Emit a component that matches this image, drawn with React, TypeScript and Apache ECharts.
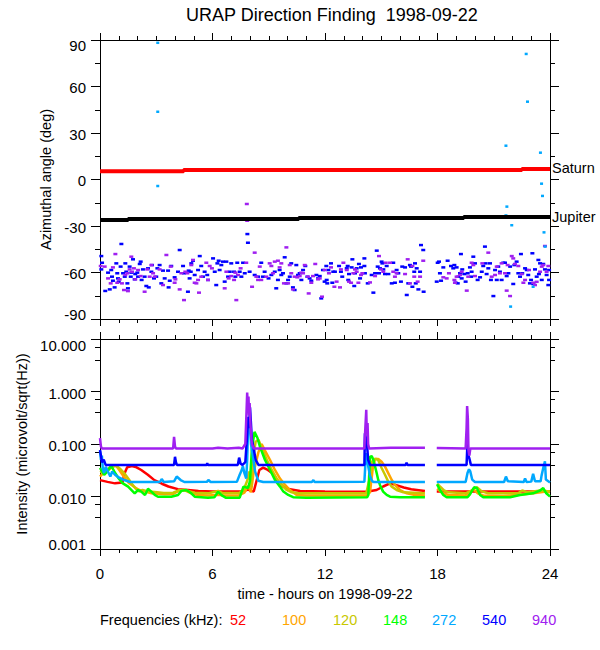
import React, { useEffect, useRef } from "react";
import * as echarts from "echarts";

// ---------- DATA ----------
const titleText = "URAP Direction Finding  1998-09-22";
const hourTicks = [0, 6, 12, 18, 24];
const freqLabels = ["52", "100", "120", "148", "272", "540", "940"];

// Top panel: planet directions (hours, deg)
const saturn: [number, number][] = [[0, 5.3], [4.46, 6.1], [22.5, 6.8], [24, 6.8]];
const jupiter: [number, number][] = [[0, -26.1], [1.5, -25.5], [10.6, -24.8], [19.4, -24.2], [24, -24.2]];

// Top panel: direction-finding points (hours, deg)
const df540: [number, number][] = [
  [0.07,-49.4],[0.11,-53.7],[0.07,-58.0],[0.28,-71.9],[0.43,-60.1],[0.52,-70.9],[0.60,-58.4],[0.64,-62.7],[0.69,-65.3],[0.78,-69.6],
  [0.87,-54.1],[0.92,-60.5],[0.96,-63.8],[1.0,-65.9],[1.10,-56.2],[1.14,-41.6],[1.23,-60.5],[1.32,-62.7],[1.35,-54.1],[1.40,-59.5],
  [1.46,-67.0],[1.49,-70.2],[1.58,-56.2],[1.64,-62.7],[1.67,-60.1],[1.76,-51.5],[1.85,-64.4],[1.88,-61.0],[1.99,-60.1],[2.03,-62.7],
  [2.12,-54.5],[2.17,-53.0],[2.22,-64.8],[2.29,-58.0],[2.38,-62.7],[2.47,-68.7],[2.56,-57.3],[2.60,-69.6],[2.74,-59.5],[2.77,-55.2],
  [2.88,-63.8],[3.0,-62.7],[3.06,-57.3],[3.18,-55.2],[3.27,-67.0],[3.36,-58.8],[3.45,-63.8],[3.63,-58.8],[3.66,-69.6],[3.72,-65.3],
  [3.80,-55.8],[3.98,-63.1],[4.16,-59.5],[4.25,-45.5],[4.43,-55.8],[4.48,-60.5],[4.69,-72.4],[4.73,-58.8],[4.78,-63.8],[4.84,-59.5],
  [4.87,-54.1],[4.96,-52.4],[5.05,-61.6],[5.23,-58.4],[5.32,-49.4],[5.40,-55.8],[5.49,-62.7],[5.58,-59.5],[5.72,-61.6],[5.76,-64.8],
  [6.03,-50.9],[6.12,-59.5],[6.20,-68.1],[6.26,-54.1],[6.33,-52.4],[6.38,-58.4],[6.47,-55.2],[6.56,-53.0],[6.65,-65.9],[6.74,-53.0],
  [6.83,-62.7],[6.92,-59.5],[7.0,-54.1],[7.15,-59.5],[7.22,-62.7],[7.32,-53.7],[7.45,-59.5],[7.54,-62.7],[7.63,-53.7],[7.72,-60.5],
  [7.86,-35.2],[7.89,-40.8],[7.98,-59.5],[8.25,-61.6],[8.43,-62.7],[8.60,-53.7],[8.69,-62.7],[8.78,-59.5],[8.99,-63.8],[9.14,-61.6],
  [9.32,-59.5],[9.40,-70.2],[9.49,-64.8],[9.58,-58.4],[9.67,-61.6],[9.76,-60.5],[9.85,-50.2],[9.94,-67.0],[10.03,-64.8],[10.12,-62.7],
  [10.20,-54.1],[10.29,-69.6],[10.38,-71.3],[10.47,-55.2],[10.56,-61.6],[10.65,-60.5],[10.74,-64.8],[10.83,-58.4],[10.95,-55.8],[11.06,-62.7],
  [11.18,-63.8],[11.27,-65.3],[11.54,-61.6],[11.63,-63.8],[11.72,-62.3],[11.80,-76.7],[11.89,-58.4],[11.98,-65.9],[12.07,-55.8],[12.12,-67.0],
  [12.09,-64.8],[12.18,-58.4],[12.32,-54.1],[12.39,-66.6],[12.44,-59.5],[12.53,-59.5],[12.75,-55.8],[12.85,-59.5],[12.92,-62.7],[13.16,-57.3],
  [13.21,-55.8],[13.24,-64.8],[13.28,-61.0],[13.42,-56.7],[13.46,-51.5],[13.56,-68.7],[13.6,-60.5],[13.69,-57.3],[13.81,-54.5],[13.87,-63.8],
  [13.92,-56.7],[14.1,-50.9],[14.1,-55.8],[14.13,-60.5],[14.28,-67.0],[14.49,-61.6],[14.58,-73.0],[14.67,-60.5],[14.76,-45.9],[14.81,-56.2],
  [14.88,-60.5],[14.93,-57.3],[15.02,-53.0],[15.06,-54.1],[15.11,-58.0],[15.2,-61.0],[15.29,-55.8],[15.38,-61.0],[15.56,-67.0],[15.64,-53.7],
  [15.73,-66.6],[15.82,-58.4],[15.91,-60.5],[16.05,-65.9],[16.12,-56.2],[16.27,-56.7],[16.36,-74.5],[16.44,-67.0],[16.53,-55.2],[16.59,-56.2],
  [16.66,-69.2],[16.76,-59.5],[16.8,-54.1],[16.84,-67.0],[16.89,-57.3],[16.98,-70.9],[17.07,-59.5],[17.12,-42.3],[17.24,-45.5],[17.26,-72.4],
  [17.96,-65.9],[18.01,-53.7],[18.08,-53.0],[18.13,-60.5],[18.19,-65.3],[18.31,-56.7],[18.54,-52.4],[18.72,-55.8],[18.84,-57.3],[18.9,-55.2],
  [18.97,-66.6],[19.02,-56.7],[19.08,-67.0],[19.11,-62.7],[19.2,-60.5],[19.25,-48.1],[19.29,-63.8],[19.32,-58.0],[19.43,-61.0],[19.5,-65.9],
  [19.61,-60.5],[19.73,-56.7],[19.79,-62.7],[19.82,-59.5],[19.91,-49.8],[20.0,-54.1],[20.14,-64.8],[20.27,-63.1],[20.36,-59.5],[20.44,-55.8],
  [20.53,-43.3],[20.57,-54.1],[20.62,-61.0],[20.71,-57.3],[20.8,-54.1],[20.85,-64.8],[20.98,-75.2],[21.07,-58.4],[21.16,-64.8],[21.24,-56.2],
  [21.33,-59.5],[21.42,-64.8],[21.51,-53.7],[21.6,-53.7],[21.69,-62.3],[21.78,-60.5],[21.87,-56.2],[22.04,-67.4],[22.1,-55.2],[22.22,-53.0],
  [22.31,-60.5],[22.4,-62.7],[22.45,-48.1],[22.52,-60.5],[22.67,-57.3],[22.76,-58.4],[22.84,-61.6],[22.93,-67.0],[22.99,-64.8],[23.06,-47.6],
  [23.11,-67.4],[23.2,-58.0],[23.29,-62.7],[23.38,-51.9],[23.41,-61.0],[23.47,-54.1],[23.56,-64.8],[23.64,-54.5],[23.73,-58.0],[23.82,-61.6],
  [23.91,-68.1],[23.95,-58.4],[23.95,-64.8]
];
const df940: [number, number][] = [
  [0.04,-55.8],[0.25,-56.2],[0.43,-63.8],[0.57,-67.0],[0.69,-56.7],[0.82,-48.1],[0.92,-66.6],[1.05,-64.4],[1.17,-67.0],[1.28,-71.3],
  [1.35,-61.6],[1.46,-60.5],[1.49,-72.0],[1.58,-58.0],[1.67,-49.8],[1.71,-59.5],[1.81,-57.3],[1.88,-64.4],[2.03,-58.4],[2.17,-62.3],
  [2.38,-72.4],[2.52,-58.0],[2.65,-62.7],[2.74,-55.2],[2.83,-60.5],[2.92,-62.7],[3.18,-58.0],[3.36,-68.1],[3.54,-48.7],[3.77,-56.2],
  [3.98,-66.6],[4.02,-64.4],[4.25,-70.9],[4.34,-60.5],[4.48,-77.8],[4.55,-59.5],[4.66,-60.5],[4.87,-55.2],[4.96,-51.9],[5.05,-66.6],
  [5.14,-67.0],[5.23,-64.8],[5.28,-73.0],[5.40,-62.7],[5.67,-53.7],[5.76,-64.8],[5.85,-55.8],[5.97,-57.3],[6.65,-70.2],[6.74,-59.5],
  [6.86,-63.8],[7.0,-62.3],[7.15,-64.8],[7.22,-60.1],[7.27,-77.8],[7.36,-61.6],[7.50,-57.3],[7.80,-53.7],[7.83,-15.8],[7.85,-26.6],
  [8.11,-69.2],[8.25,-47.2],[8.34,-62.7],[8.43,-64.8],[8.52,-56.2],[8.60,-64.8],[8.87,-62.7],[9.05,-54.1],[9.14,-55.8],[9.23,-60.5],
  [9.32,-53.0],[9.49,-52.4],[9.58,-56.7],[9.67,-54.1],[9.81,-67.0],[9.94,-43.8],[10.03,-67.0],[10.12,-55.2],[10.20,-60.5],[10.29,-70.9],
  [10.38,-62.7],[10.52,-63.1],[10.65,-62.3],[10.74,-60.1],[10.83,-60.5],[10.92,-55.2],[11.09,-62.7],[11.13,-73.5],[11.27,-66.6],[11.36,-62.3],
  [11.48,-54.5],[11.63,-64.4],[11.72,-63.8],[11.84,-75.6],[11.98,-58.4],[12.21,-60.5],[12.32,-56.7],[12.5,-69.2],[12.62,-65.9],[12.8,-69.6],
  [12.85,-58.0],[12.98,-53.7],[13.16,-58.4],[13.28,-65.9],[13.39,-66.6],[13.51,-60.5],[13.6,-58.0],[13.69,-59.5],[13.78,-66.6],[13.92,-61.6],
  [13.99,-60.5],[14.4,-66.4],[14.67,-62.3],[14.88,-49.4],[14.99,-58.0],[15.11,-59.5],[15.24,-53.7],[15.47,-53.7],[15.64,-59.5],[15.73,-62.7],
  [15.82,-60.5],[16.27,-61.0],[16.41,-51.5],[16.53,-67.0],[16.66,-55.8],[16.76,-62.7],[16.94,-65.9],[17.07,-62.7],[17.24,-52.4],[18.31,-63.1],
  [18.49,-63.8],[18.61,-60.5],[18.9,-64.8],[18.93,-66.6],[19.02,-62.7],[19.2,-61.6],[19.29,-59.5],[19.56,-71.7],[19.64,-62.7],[19.82,-53.7],
  [19.91,-55.2],[20.0,-62.3],[20.39,-54.1],[20.71,-47.2],[20.89,-62.7],[21.07,-61.6],[21.16,-56.2],[21.33,-60.5],[21.42,-54.1],[21.6,-60.5],
  [21.69,-71.7],[21.74,-55.2],[21.87,-75.2],[21.96,-49.4],[22.04,-50.9],[22.13,-54.5],[22.31,-55.8],[22.49,-61.0],[22.58,-66.6],[22.67,-64.8],
  [22.88,-58.4],[23.11,-66.6],[23.2,-68.1],[23.29,-66.0],[23.47,-59.5],[23.56,-56.2],[23.64,-55.2],[23.73,-42.9],[23.82,-59.5],[23.91,-55.8]
];
const df272: [number, number][] = [
  [3.08,88.2],[3.08,43.7],[3.08,-4.2],[21.65,21.8],[21.7,-17.5],[21.65,-23.2],[21.96,-29.5],[22.73,81.0],[22.8,50.2],
  [23.49,17.3],[23.55,-2.7],[23.6,-10.6],[23.68,-34.1],[23.74,-43.3],[21.9,-82.0],[23.1,-69.2]
];

// Bottom panel: intensity per frequency (hours, microvolt/sqrt(Hz)); '-' = data gap
const f52: any[] = [
  [0,0.0205],[0.4,0.019],[0.8,0.0178],[1.2,0.0185],[1.3,0.027],[1.45,0.036],[1.7,0.038],[1.95,0.036],[2.2,0.032],[2.55,0.026],
  [2.9,0.0205],[3.3,0.0175],[3.65,0.0155],[4.15,0.0138],[4.7,0.0133],[5.25,0.0127],[6.0,0.0125],[7.0,0.0125],[7.6,0.0126],[7.9,0.0135],
  [8.05,0.0128],[8.2,0.0125],[8.35,0.02],[8.5,0.032],[8.7,0.0354],[8.95,0.032],[9.25,0.0268],[9.5,0.019],[9.78,0.0153],[10.13,0.0137],
  [10.67,0.0127],[12.0,0.0125],[14.2,0.0123],[14.75,0.0133],[15.1,0.0155],[15.47,0.0178],[15.8,0.0165],[16.2,0.0148],[16.6,0.0138],[17.0,0.0132],
  [17.33,0.0127],[17.65,"-"],[17.96,0.0124],[19,0.0124],[20,0.0125],[21,0.0124],[22,0.0125],[23,0.0124],[24,0.0125]
];
const f100: any[] = [
  [0,0.024],[0.22,0.029],[0.5,0.033],[0.67,0.037],[0.85,0.039],[1.03,0.032],[1.2,0.026],[1.39,0.021],[1.56,0.0178],[1.85,0.015],
  [2.1,0.0133],[2.4,0.0124],[2.75,0.0115],[3.45,0.011],[3.9,0.0112],[4.2,0.0128],[4.5,0.0133],[4.87,0.0115],[5.23,0.0107],[5.8,0.0104],
  [6.3,0.0108],[6.6,0.0104],[7.4,0.0105],[7.7,0.0118],[7.9,0.016],[8.05,0.012],[8.2,0.03],[8.45,0.07],[8.62,0.1],[8.8,0.075],
  [9.07,0.0495],[9.33,0.032],[9.6,0.022],[9.87,0.0166],[10.13,0.0133],[10.49,0.0107],[11,0.0104],[14.2,0.0104],[14.4,0.012],[14.55,0.035],
  [14.67,0.052],[14.84,0.052],[15.02,0.046],[15.2,0.037],[15.38,0.0276],[15.56,0.0206],[15.73,0.0166],[16.0,0.0133],[16.36,0.0115],[16.8,0.0107],
  [17.33,0.0105],[17.65,"-"],[17.98,0.0141],[18.3,0.0115],[18.58,0.0107],[19.5,0.0105],[19.75,0.012],[19.91,0.0137],[20.15,0.0115],[20.44,0.0105],
  [21.5,0.0102],[22.2,0.0107],[23.1,0.0115],[23.8,0.0125],[24,0.012]
];
const f120: any[] = [
  [0,0.029],[0.32,0.032],[0.6,0.037],[0.85,0.039],[1.1,0.033],[1.3,0.0276],[1.56,0.0206],[1.74,0.0166],[1.92,0.014],[2.1,0.0125],
  [2.27,0.0133],[2.56,0.0125],[2.92,0.0122],[3.4,0.0117],[3.9,0.0118],[4.2,0.013],[4.4,0.0133],[4.7,0.0128],[5.05,0.0118],[5.8,0.0115],
  [6.3,0.0128],[6.55,0.0116],[7.4,0.0116],[7.65,0.013],[7.85,0.02],[7.95,0.03],[8.05,0.015],[8.15,0.05],[8.3,0.11],[8.45,0.12],
  [8.65,0.08],[8.9,0.0495],[9.16,0.032],[9.42,0.022],[9.69,0.0166],[9.96,0.0133],[10.22,0.012],[10.6,0.0115],[14.2,0.0115],[14.35,0.02],
  [14.5,0.045],[14.6,0.052],[14.75,0.052],[14.84,0.049],[15.02,0.035],[15.2,0.026],[15.38,0.019],[15.56,0.0154],[15.82,0.0133],[16.18,0.012],
  [17.33,0.0115],[17.65,"-"],[17.98,0.0175],[18.13,0.0155],[18.35,0.013],[18.58,0.012],[19.5,0.0115],[19.8,0.013],[20.1,0.015],[20.36,0.0125],
  [20.7,0.0115],[22.3,0.0115],[22.52,0.013],[22.8,0.012],[23.5,0.013],[24,0.0125]
];
const f148: any[] = [
  [0,0.035],[0.22,0.0257],[0.4,0.03],[0.6,0.039],[0.78,0.029],[1.0,0.022],[1.2,0.018],[1.5,0.0154],[1.85,0.0115],[2.03,0.0133],
  [2.2,0.0124],[2.4,0.0107],[2.56,0.014],[2.74,0.0124],[2.92,0.0107],[3.09,0.0099],[3.8,0.0099],[4.16,0.0107],[4.34,0.0128],[4.6,0.0133],
  [4.87,0.0115],[5.05,0.0099],[5.76,0.0095],[6.1,0.0097],[6.3,0.0123],[6.5,0.0105],[6.7,0.0095],[7.45,0.0095],[7.65,0.0154],[7.9,0.0145],
  [8.0,0.02],[8.1,0.08],[8.24,0.17],[8.4,0.13],[8.53,0.089],[8.8,0.0495],[9.07,0.032],[9.33,0.0206],[9.6,0.0154],[9.78,0.0124],
  [10.04,0.0107],[10.3,0.0097],[11,0.0095],[14.25,0.0097],[14.31,0.0107],[14.4,0.057],[14.49,0.059],[14.58,0.05],[14.67,0.037],[14.76,0.0276],
  [14.84,0.0206],[14.93,0.0166],[15.1,0.0124],[15.29,0.0107],[15.47,0.0099],[16,0.0097],[17.33,0.0097],[17.65,"-"],[17.98,0.017],[18.13,0.0133],
  [18.31,0.0107],[18.49,0.0097],[19.6,0.0097],[19.73,0.011],[19.95,0.015],[20.1,0.0145],[20.27,0.0107],[20.44,0.0097],[21.87,0.0097],[22.4,0.0107],
  [23.1,0.0115],[23.47,0.013],[23.64,0.0145],[23.8,0.0115],[24,0.01]
];
const f272: any[] = [
  [0,0.074],[0.05,0.05],[0.1,0.06],[0.15,0.034],[0.22,0.028],[0.3,0.037],[0.4,0.031],[0.55,0.024],[0.65,0.03],[0.8,0.026],
  [1.0,0.023],[1.3,0.0206],[1.6,0.0189],[3.2,0.0189],[3.29,0.0215],[3.4,0.0189],[3.95,0.0195],[4.09,0.024],[4.3,0.0206],[4.5,0.0189],
  [5.7,0.019],[5.78,0.0206],[5.9,0.0189],[7.3,0.019],[7.45,0.026],[7.56,0.032],[7.62,0.038],[7.7,0.028],[7.8,0.022],[7.85,0.05],
  [7.9,0.2],[7.95,0.32],[8.0,0.25],[8.05,0.1],[8.15,0.06],[8.27,0.03],[8.44,0.02],[8.71,0.0189],[11.3,0.0189],[11.38,0.0205],
  [11.45,0.0189],[14.1,0.019],[14.15,0.04],[14.2,0.067],[14.25,0.05],[14.31,0.037],[14.4,0.025],[14.5,0.02],[14.58,0.0189],[17.33,0.0189],
  [17.65,"-"],[17.96,0.0189],[19.5,0.0189],[19.6,0.028],[19.68,0.033],[19.75,0.03],[19.85,0.021],[20,0.0189],[21.55,0.0189],[21.65,0.024],
  [21.75,0.0195],[22.6,0.0189],[22.67,0.022],[22.75,0.0189],[23.0,0.0192],[23.1,0.027],[23.2,0.0195],[23.5,0.0195],[23.55,0.025],[23.64,0.035],
  [23.73,0.047],[23.78,0.021],[24,0.0185]
];
const f540: any[] = [
  [0,0.077],[0.05,0.06],[0.1,0.045],[0.2,0.05],[0.3,0.04],[3.95,0.04],[4.0,0.057],[4.05,0.045],[4.1,0.04],[5.69,0.04],
  [5.72,0.043],[5.75,0.04],[7.35,0.04],[7.42,0.055],[7.5,0.042],[7.6,0.04],[7.75,0.045],[7.85,0.15],[7.9,0.33],[7.95,0.2],
  [8.0,0.5],[8.05,0.25],[8.1,0.12],[8.2,0.08],[8.3,0.05],[8.45,0.04],[14.1,0.04],[14.13,0.16],[14.2,0.12],[14.25,0.089],
  [14.3,0.05],[14.4,0.04],[16.3,0.04],[16.35,0.044],[16.4,0.04],[17.33,0.04],[17.65,"-"],[17.96,0.04],[19.55,0.04],[19.6,0.11],
  [19.65,0.06],[19.7,0.053],[19.78,0.04],[24,0.04]
];
const f940: any[] = [
  [0,0.13],[0.05,0.09],[0.1,0.082],[3.9,0.082],[3.95,0.137],[4.0,0.09],[4.05,0.082],[6.0,0.082],[6.3,0.085],[6.8,0.082],
  [7.4,0.085],[7.6,0.082],[7.75,0.1],[7.8,0.3],[7.85,0.95],[7.88,0.5],[7.92,0.8],[7.95,0.35],[7.98,0.6],[8.02,0.25],
  [8.06,0.15],[8.1,0.1],[8.2,0.082],[14.1,0.082],[14.15,0.2],[14.2,0.45],[14.23,0.15],[14.27,0.25],[14.3,0.1],[14.35,0.082],
  [15.5,0.085],[17.33,0.085],[17.65,"-"],[17.96,0.084],[19.5,0.082],[19.55,0.2],[19.58,0.53],[19.62,0.3],[19.65,0.077],[19.7,0.06],
  [19.75,0.082],[24,0.082]
];

// ---------- STYLE ----------
const FONT = "'Liberation Sans', Arial, Helvetica, sans-serif";
const freqColors = ["#ff0000", "#ffa500", "#c8c800", "#00ff00", "#00a8ff", "#0000ff", "#a020f0"];
const freqSeries = [f52, f100, f120, f148, f272, f540, f940];

function App() {
  const ref = useRef<HTMLDivElement>(null);
  useEffect(() => {
    if (!ref.current) return;
    const chart = echarts.init(ref.current, null, { renderer: "svg" });
    const axisLine = { show: true, onZero: false, lineStyle: { color: "#000", width: 1 } };
    const xCommon = (gridIndex: number, position: string, showLabel: boolean, name?: string) => ({
      type: "value",
      gridIndex,
      position,
      min: 0,
      max: 24,
      interval: 6,
      axisLine,
      axisTick: { show: true, inside: false, length: 7, lineStyle: { color: "#000" } },
      minorTick: { show: true, splitNumber: 6, length: 4, lineStyle: { color: "#000" } },
      splitLine: { show: false },
      axisLabel: {
        show: showLabel,
        margin: 17,
        color: "#000",
        fontSize: 15,
        fontFamily: FONT,
        formatter: (v: number) => (hourTicks.includes(v) ? String(v) : ""),
      },
      name,
      nameLocation: "middle",
      nameGap: 37,
      nameTextStyle: { color: "#000", fontSize: 14.5, fontFamily: FONT },
    });
    const richLabel = {
      t: { padding: [11, 0, 0, 0], fontSize: 15, fontFamily: FONT, color: "#000" },
      b: { padding: [0, 0, 9, 0], fontSize: 15, fontFamily: FONT, color: "#000" },
      n: { padding: [2, 0, 0, 0], fontSize: 15, fontFamily: FONT, color: "#000" },
    };
    const yTickStyle = { show: true, inside: false, length: 9, lineStyle: { color: "#000" } };
    const scatterCommon = {
      type: "scatter",
      xAxisIndex: 0,
      yAxisIndex: 0,
      symbol: "rect",
      symbolSize: [4, 2.5],
    };

    const option: any = {
      animation: false,
      backgroundColor: "#fff",
      title: {
        text: titleText,
        left: 181,
        top: 1,
        textStyle: { color: "#000", fontSize: 18, fontWeight: "normal", fontFamily: FONT },
      },
      grid: [
        { left: 100, top: 40, width: 450, height: 279, outerBoundsMode: "none" },
        { left: 100, top: 339, width: 450, height: 210, outerBoundsMode: "none" },
      ],
      xAxis: [
        xCommon(0, "bottom", false),
        xCommon(0, "top", false),
        xCommon(1, "bottom", true, "time - hours on 1998-09-22"),
        xCommon(1, "top", false),
      ],
      yAxis: [
        {
          type: "value",
          gridIndex: 0,
          position: "left",
          min: -90,
          max: 90,
          interval: 30,
          axisLine,
          axisTick: yTickStyle,
          minorTick: { show: true, splitNumber: 2, length: 5, lineStyle: { color: "#000" } },
          splitLine: { show: false },
          axisLabel: {
            margin: 14,
            color: "#000",
            fontSize: 15,
            fontFamily: FONT,
            formatter: (v: number) => (v === 90 ? "{t|90}" : v === -90 ? "{b|-90}" : "{n|" + v + "}"),
            rich: richLabel,
          },
          name: "Azimuthal angle (deg)",
          nameLocation: "middle",
          nameGap: 46,
          nameTextStyle: { color: "#000", fontSize: 14.5, fontFamily: FONT },
        },
        {
          type: "value",
          gridIndex: 0,
          position: "right",
          min: -90,
          max: 90,
          interval: 30,
          axisLine,
          axisTick: yTickStyle,
          minorTick: { show: true, splitNumber: 2, length: 5, lineStyle: { color: "#000" } },
          splitLine: { show: false },
          axisLabel: { show: false },
        },
        {
          type: "log",
          logBase: 10,
          gridIndex: 1,
          position: "left",
          min: 0.001,
          max: 10,
          axisLine,
          axisTick: yTickStyle,
          minorTick: { show: true, splitNumber: 3, length: 5, lineStyle: { color: "#000" } },
          splitLine: { show: false },
          axisLabel: {
            margin: 14,
            color: "#000",
            fontSize: 15,
            fontFamily: FONT,
            formatter: (v: number) => {
              const s = v.toFixed(3);
              if (v > 5) return "{t|" + s + "}";
              if (v < 0.002) return "{b|" + s + "}";
              return "{n|" + s + "}";
            },
            rich: {
              t: { padding: [12, 0, 0, 0], fontSize: 15, fontFamily: FONT, color: "#000" },
              b: { padding: [0, 0, 10, 0], fontSize: 15, fontFamily: FONT, color: "#000" },
              n: { padding: [3, 0, 0, 0], fontSize: 15, fontFamily: FONT, color: "#000" },
            },
          },
          name: "Intensity (microvolt/sqrt(Hz))",
          nameLocation: "middle",
          nameGap: 69,
          nameTextStyle: { color: "#000", fontSize: 14.5, fontFamily: FONT },
        },
        {
          type: "log",
          logBase: 10,
          gridIndex: 1,
          position: "right",
          min: 0.001,
          max: 10,
          axisLine,
          axisTick: yTickStyle,
          minorTick: { show: true, splitNumber: 3, length: 5, lineStyle: { color: "#000" } },
          splitLine: { show: false },
          axisLabel: { show: false },
        },
      ],
      series: [
        { ...scatterCommon, data: df540, itemStyle: { color: freqColors[5], opacity: 1 } },
        { ...scatterCommon, data: df940, itemStyle: { color: freqColors[6], opacity: 1 } },
        { ...scatterCommon, data: df272, symbolSize: [3, 2.5], itemStyle: { color: freqColors[4], opacity: 1 } },
        {
          type: "line",
          xAxisIndex: 0,
          yAxisIndex: 0,
          data: saturn,
          step: "end",
          symbol: "none",
          lineStyle: { color: "#ff0000", width: 4 },
          endLabel: {
            show: true,
            formatter: "Saturn",
            color: "#000",
            fontSize: 14.5,
            fontFamily: FONT,
            distance: 2,
            offset: [0, -1],
          },
        },
        {
          type: "line",
          xAxisIndex: 0,
          yAxisIndex: 0,
          data: jupiter,
          step: "end",
          symbol: "none",
          lineStyle: { color: "#000", width: 4 },
          endLabel: {
            show: true,
            formatter: "Jupiter",
            color: "#000",
            fontSize: 14.5,
            fontFamily: FONT,
            distance: 2,
            offset: [0, 0],
          },
        },
        ...freqSeries.map((d, i) => ({
          type: "line",
          name: freqLabels[i],
          xAxisIndex: 2,
          yAxisIndex: 2,
          data: d,
          symbol: "none",
          connectNulls: false,
          lineStyle: { color: freqColors[i], width: 2.5 },
        })),
      ],
      graphic: [
        {
          type: "text",
          left: 100,
          top: 612,
          style: { text: "Frequencies (kHz):", fill: "#000", font: "14.5px " + FONT },
        },
        ...freqLabels.map((t, i) => ({
          type: "text",
          left: [230, 282, 333, 383, 432, 482, 532][i],
          top: 612,
          style: { text: t, fill: freqColors[i], font: "14.5px " + FONT },
        })),
      ],
    };
    chart.setOption(option);
    return () => chart.dispose();
  }, []);
  return (
    <div
      ref={ref}
      style={{ position: "absolute", left: 0, top: 0, width: 600, height: 650, background: "#fff" }}
    />
  );
}

export default App;
